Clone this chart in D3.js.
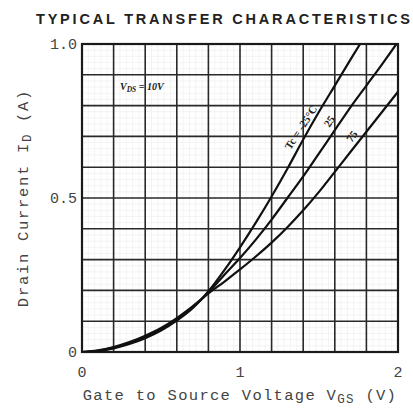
<!DOCTYPE html>
<html>
<head>
<meta charset="utf-8">
<script src="https://cdn.jsdelivr.net/npm/d3@7"></script>
<style>
body { margin: 0; background: #fff; }
svg { display: block; }
</style>
</head>
<body>
<script>
//data
var vgsMinus25 = [0, 0.1, 0.2, 0.3, 0.4, 0.5, 0.6, 0.7, 0.8, 0.9, 1.0, 1.1, 1.2, 1.3, 1.4, 1.5, 1.6, 1.7, 1.76];
var idMinus25  = [0, 0.003, 0.012, 0.026, 0.045, 0.07, 0.102, 0.142, 0.197, 0.265, 0.34, 0.42, 0.505, 0.595, 0.69, 0.78, 0.865, 0.95, 1.0];

var vgs25 = [0, 0.1, 0.2, 0.3, 0.4, 0.5, 0.6, 0.7, 0.8, 0.9, 1.0, 1.1, 1.2, 1.3, 1.4, 1.5, 1.6, 1.7, 1.8, 1.9, 1.99];
var id25  = [0, 0.004, 0.014, 0.029, 0.049, 0.074, 0.106, 0.145, 0.193, 0.25, 0.305, 0.365, 0.43, 0.50, 0.57, 0.645, 0.72, 0.795, 0.865, 0.935, 1.0];

var vgs75 = [0, 0.1, 0.2, 0.3, 0.4, 0.5, 0.6, 0.7, 0.8, 0.9, 1.0, 1.1, 1.2, 1.3, 1.4, 1.5, 1.6, 1.7, 1.8, 1.9, 2.0];
var id75  = [0, 0.005, 0.016, 0.032, 0.053, 0.078, 0.11, 0.148, 0.19, 0.228, 0.268, 0.31, 0.355, 0.405, 0.46, 0.52, 0.585, 0.65, 0.715, 0.78, 0.845];

var xTicks = [0, 1, 2];
var yTicks = [0, 0.5, 1.0];
var yTickLabels = ["0", "0.5", "1.0"];

(function(){

    var width = 413,
        height = 416;

    var svg = d3.select("body")
        .append("svg")
        .attr("width", width)
        .attr("height", height);

    var x = d3.scaleLinear().domain([0, 2]).range([82, 398]);
    var y = d3.scaleLinear().domain([0, 1]).range([352, 44]);

    //faint graph paper
    var minorX = d3.range(0, 2.0001, 0.04);
    var minorY = d3.range(0, 1.0001, 0.02);
    svg.append("g").selectAll("line")
        .data(minorX).enter().append("line")
        .attr("x1", function(d){ return x(d); })
        .attr("x2", function(d){ return x(d); })
        .attr("y1", y(0)).attr("y2", y(1))
        .attr("stroke", "#ededed").attr("stroke-width", 0.6);
    svg.append("g").selectAll("line")
        .data(minorY).enter().append("line")
        .attr("y1", function(d){ return y(d); })
        .attr("y2", function(d){ return y(d); })
        .attr("x1", x(0)).attr("x2", x(2))
        .attr("stroke", "#ededed").attr("stroke-width", 0.6);

    //major grid
    var gridX = d3.range(0, 2.0001, 0.2);
    var gridY = d3.range(0, 1.0001, 0.1);
    svg.append("g").selectAll("line")
        .data(gridX).enter().append("line")
        .attr("x1", function(d){ return x(d); })
        .attr("x2", function(d){ return x(d); })
        .attr("y1", y(0)).attr("y2", y(1))
        .attr("stroke", "#2a2a2a").attr("stroke-width", 1.6);
    svg.append("g").selectAll("line")
        .data(gridY).enter().append("line")
        .attr("y1", function(d){ return y(d); })
        .attr("y2", function(d){ return y(d); })
        .attr("x1", x(0)).attr("x2", x(2))
        .attr("stroke", "#2a2a2a").attr("stroke-width", 1.6);

    //frame
    svg.append("rect")
        .attr("x", x(0)).attr("y", y(1))
        .attr("width", x(2) - x(0)).attr("height", y(0) - y(1))
        .attr("fill", "none").attr("stroke", "#1a1a1a").attr("stroke-width", 2.2);

    //curves
    var line = d3.line()
        .x(function(d){ return x(d[0]); })
        .y(function(d){ return y(d[1]); })
        .curve(d3.curveMonotoneX);

    var series = [
        d3.zip(vgsMinus25, idMinus25),
        d3.zip(vgs25, id25),
        d3.zip(vgs75, id75)
    ];

    svg.append("clipPath").attr("id", "plot")
        .append("rect")
        .attr("x", x(0)).attr("y", y(1))
        .attr("width", x(2) - x(0)).attr("height", y(0) - y(1));

    svg.append("g").attr("clip-path", "url(#plot)")
        .selectAll("path")
        .data(series).enter().append("path")
        .attr("d", line)
        .attr("fill", "none")
        .attr("stroke", "#111")
        .attr("stroke-width", 2.2);

    //curve labels, sitting just left of their lines
    var lab = svg.append("g")
        .style("font-family", "'Liberation Serif', serif")
        .style("font-weight", "bold")
        .style("font-size", "11px")
        .attr("fill", "#222");
    lab.append("text")
        .attr("transform", "translate(304,129.5) rotate(-57)")
        .attr("text-anchor", "middle")
        .text("Tc = -25°C");
    lab.append("text")
        .attr("transform", "translate(332.5,123.5) rotate(-57)")
        .attr("text-anchor", "middle")
        .text("25");
    lab.append("text")
        .attr("transform", "translate(355,138.5) rotate(-55)")
        .attr("text-anchor", "middle")
        .text("75");

    //VDS note
    var note = svg.append("text")
        .attr("x", 120).attr("y", 90)
        .style("font-family", "'Liberation Serif', serif")
        .style("font-weight", "bold")
        .style("font-style", "italic")
        .style("font-size", "10px")
        .attr("fill", "#222");
    note.append("tspan").text("V");
    note.append("tspan").attr("dy", 2).style("font-size", "7.5px").text("DS");
    note.append("tspan").attr("dy", -2).text(" = 10V");

    //tick labels
    var mono = "'Liberation Mono', 'DejaVu Sans Mono', monospace";
    svg.append("g").selectAll("text")
        .data(xTicks).enter().append("text")
        .attr("x", function(d){ return x(d); })
        .attr("y", 377)
        .attr("text-anchor", "middle")
        .style("font-family", mono).style("font-size", "15px")
        .attr("fill", "#444")
        .text(function(d){ return d; });
    svg.append("g").selectAll("text")
        .data(yTicks).enter().append("text")
        .attr("x", 77)
        .attr("y", function(d){ return y(d) + 5; })
        .attr("text-anchor", "end")
        .style("font-family", mono).style("font-size", "15px")
        .attr("fill", "#444")
        .text(function(d, i){ return yTickLabels[i]; });

    //axis titles
    var xt = svg.append("text")
        .attr("x", 240).attr("y", 400)
        .attr("text-anchor", "middle")
        .style("font-family", mono).style("font-size", "15.5px")
        .style("letter-spacing", "1.3px")
        .attr("fill", "#444");
    xt.append("tspan").text("Gate to Source Voltage V");
    xt.append("tspan").attr("dy", 3).style("font-size", "12.5px").text("GS");
    xt.append("tspan").attr("dy", -3).text(" (V)");

    var yt = svg.append("text")
        .attr("transform", "translate(28,198) rotate(-90)")
        .attr("text-anchor", "middle")
        .style("font-family", mono).style("font-size", "15.5px")
        .style("letter-spacing", "1.7px")
        .attr("fill", "#444");
    yt.append("tspan").text("Drain Current I");
    yt.append("tspan").attr("dy", 3).style("font-size", "12.5px").text("D");
    yt.append("tspan").attr("dy", -3).text(" (A)");

    //title
    svg.append("text")
        .attr("x", 36).attr("y", 24)
        .attr("textLength", 374)
        .attr("lengthAdjust", "spacing")
        .style("font-family", "'Liberation Sans', Arial, sans-serif")
        .style("font-weight", "bold")
        .style("font-size", "14.5px")
        .attr("fill", "#222")
        .text("TYPICAL TRANSFER CHARACTERISTICS");

})();
</script>
</body>
</html>
